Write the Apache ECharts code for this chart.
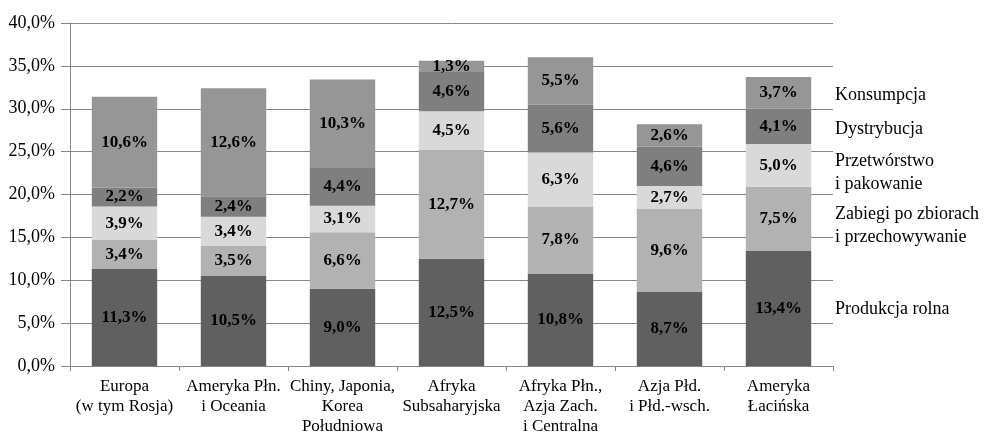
<!DOCTYPE html>
<html><head><meta charset="utf-8">
<script src="https://cdn.jsdelivr.net/npm/echarts@6/dist/echarts.min.js"></script>
<style>html,body{margin:0;padding:0;background:#fff}#c{width:985px;height:437px}</style>
</head><body><div id="c"></div>
<script>
const categories = ["Europa\n(w tym Rosja)", "Ameryka Płn.\ni Oceania", "Chiny, Japonia,\nKorea\nPołudniowa", "Afryka\nSubsaharyjska", "Afryka Płn.,\nAzja Zach.\ni Centralna", "Azja Płd.\ni Płd.-wsch.", "Ameryka\nŁacińska"];
const seriesNames = ["Produkcja rolna", "Zabiegi po zbiorach\ni przechowywanie", "Przetwórstwo\ni pakowanie", "Dystrybucja", "Konsumpcja"];
const produkcja = [11.3, 10.5, 9.0, 12.5, 10.8, 8.7, 13.4];
const zabiegi = [3.4, 3.5, 6.6, 12.7, 7.8, 9.6, 7.5];
const przetworstwo = [3.9, 3.4, 3.1, 4.5, 6.3, 2.7, 5.0];
const dystrybucja = [2.2, 2.4, 4.4, 4.6, 5.6, 4.6, 4.1];
const konsumpcja = [10.6, 12.6, 10.3, 1.3, 5.5, 2.6, 3.7];
const colors = ["#606060", "#b2b2b2", "#d9d9d9", "#7f7f7f", "#969696"];
const values = [produkcja, zabiegi, przetworstwo, dystrybucja, konsumpcja];
const fmt = v => v.toFixed(1).replace('.', ',') + '%';
const font = "Liberation Serif";

const chart = echarts.init(document.getElementById('c'));
const series = values.map((d, i) => ({
  name: seriesNames[i], type: 'bar', stack: 's', data: d,
  barCategoryGap: '40%',
  itemStyle: { color: colors[i] },
  label: { show: true, position: 'inside', formatter: p => fmt(p.value),
    fontFamily: font, fontWeight: 'bold', fontSize: 17, color: '#000' }
}));
// right-side series labels (positioned near the last bar's segments)
const sideY = [309, 225.5, 172.5, 129, 95];
const graphic = seriesNames.map((n, i) => ({
  type: 'text', left: 835, top: sideY[i] - (n.includes('\n') ? 23 : 11.5),
  style: { text: n, font: '18px "' + font + '"', fill: '#000', lineHeight: 23 }
}));
chart.setOption({
  animation: false,
  grid: { left: 70, right: 152, top: 23, bottom: 68 },
  graphic: graphic,
  xAxis: { type: 'category', data: categories,
    axisLine: { lineStyle: { color: '#868686' } },
    axisTick: { show: true, length: 5, lineStyle: { color: '#868686' } },
    axisLabel: { fontFamily: font, fontSize: 17, color: '#000', lineHeight: 20, margin: 11, interval: 0 } },
  yAxis: { type: 'value', min: 0, max: 40, interval: 5,
    axisLine: { show: true, lineStyle: { color: '#868686' } },
    axisTick: { show: true, length: 9, lineStyle: { color: '#868686' } },
    splitLine: { lineStyle: { color: '#868686' } },
    axisLabel: { fontFamily: font, fontSize: 18, color: '#000', margin: 15, formatter: v => fmt(v) } },
  series: series
});
</script></body></html>
